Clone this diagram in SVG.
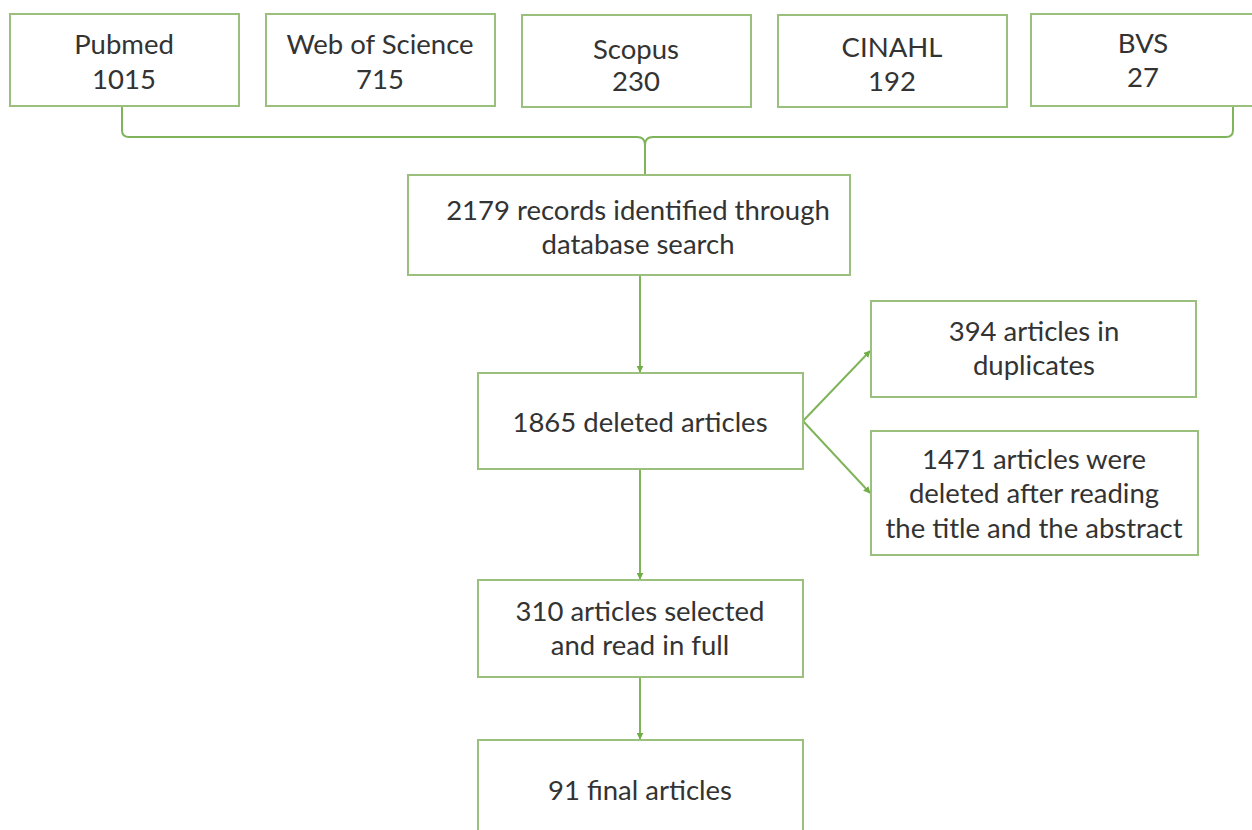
<svg xmlns="http://www.w3.org/2000/svg" width="1252" height="830" viewBox="0 0 1252 830">
<defs>
<marker id="ah" viewBox="0 0 10 10" refX="9" refY="5" markerWidth="7" markerHeight="7" markerUnits="userSpaceOnUse" orient="auto">
<path d="M0,0 L10,5 L0,10 z" fill="#70ad47"/>
</marker>
<style>
.box{fill:#ffffff;stroke:#9bbf7c;stroke-width:2}
.t{font-family:Lato,"Open Sans","Liberation Sans",sans-serif;font-size:27.5px;fill:#333333;text-anchor:middle}
.c{fill:none;stroke:#7fb45a;stroke-width:2}
.a{fill:none;stroke:#7fb45a;stroke-width:2;marker-end:url(#ah)}
</style>
</defs>
<rect width="1252" height="830" fill="#ffffff"/>
<g id="connectors">
<path class="c" d="M122,106 V130 Q122,137 129,137 H637 Q645,137 645,145 V175 M645,145 Q645,137 653,137 H1226 Q1233,137 1233,130 V106"/>
<line class="a" x1="640" y1="275" x2="640" y2="372"/>
<line class="a" x1="803" y1="421" x2="870" y2="351"/>
<line class="a" x1="803" y1="421" x2="870" y2="493"/>
<line class="a" x1="640" y1="469" x2="640" y2="579"/>
<line class="a" x1="640" y1="677" x2="640" y2="739"/>
</g>
<g id="pubmed"><rect class="box" x="10" y="14" width="229" height="92"/><text class="t" x="124" y="54">Pubmed</text><text class="t" x="124" y="89">1015</text></g>
<g id="wos"><rect class="box" x="266" y="14" width="229" height="92"/><text class="t" x="380" y="54">Web of Science</text><text class="t" x="380" y="89">715</text></g>
<g id="scopus"><rect class="box" x="522" y="15" width="229" height="92"/><text class="t" x="636" y="59">Scopus</text><text class="t" x="636" y="91">230</text></g>
<g id="cinahl"><rect class="box" x="778" y="15" width="229" height="92"/><text class="t" x="892" y="57">CINAHL</text><text class="t" x="892" y="91">192</text></g>
<g id="bvs"><rect class="box" x="1031" y="14" width="230" height="92"/><text class="t" x="1143" y="53">BVS</text><text class="t" x="1143" y="87">27</text></g>
<g id="records"><rect class="box" x="408" y="175" width="442" height="100"/><text class="t" x="638" y="220">2179 records identified through</text><text class="t" x="638" y="254">database search</text></g>
<g id="deleted"><rect class="box" x="478" y="373" width="325" height="96"/><text class="t" x="640" y="432">1865 deleted articles</text></g>
<g id="duplicates"><rect class="box" x="871" y="301" width="325" height="96"/><text class="t" x="1034" y="341">394 articles in</text><text class="t" x="1034" y="375">duplicates</text></g>
<g id="abstract"><rect class="box" x="871" y="431" width="327" height="124"/><text class="t" x="1034" y="469">1471 articles were</text><text class="t" x="1034" y="503">deleted after reading</text><text class="t" x="1034" y="538">the title and the abstract</text></g>
<g id="selected"><rect class="box" x="478" y="580" width="325" height="97"/><text class="t" x="640" y="621">310 articles selected</text><text class="t" x="640" y="655">and read in full</text></g>
<g id="final"><rect class="box" x="478" y="740" width="325" height="100"/><text class="t" x="640" y="800">91 final articles</text></g>
</svg>
